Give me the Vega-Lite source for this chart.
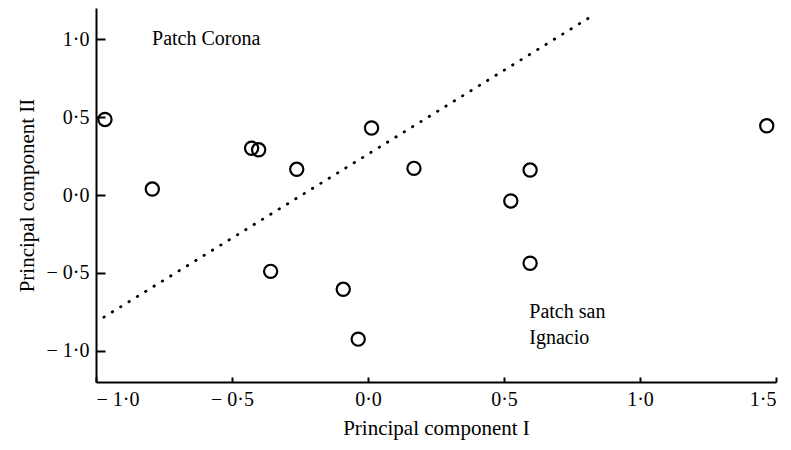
{
  "$schema": "https://vega.github.io/schema/vega-lite/v6.json",
  "width": 680,
  "height": 374,
  "autosize": {"type": "none"},
  "padding": {"left": 96, "top": 8, "right": 15, "bottom": 68},
  "background": "white",
  "config": {
    "view": {"stroke": null},
    "font": "Liberation Serif",
    "axis": {
      "grid": false,
      "domainColor": "black",
      "domainWidth": 2,
      "tickColor": "black",
      "tickWidth": 2,
      "labelFont": "Liberation Serif",
      "labelFontSize": 20,
      "labelColor": "black",
      "titleFont": "Liberation Serif",
      "titleFontSize": 21,
      "titleFontWeight": "normal",
      "titleColor": "black"
    }
  },
  "datasets": {
    "points": [
      {"pc1": -0.967, "pc2": 0.485},
      {"pc1": -0.793, "pc2": 0.038},
      {"pc1": -0.428, "pc2": 0.30},
      {"pc1": -0.402, "pc2": 0.29},
      {"pc1": -0.262, "pc2": 0.165},
      {"pc1": 0.013, "pc2": 0.43},
      {"pc1": -0.358, "pc2": -0.49},
      {"pc1": -0.091, "pc2": -0.605},
      {"pc1": -0.036, "pc2": -0.925},
      {"pc1": 0.169, "pc2": 0.171},
      {"pc1": 0.596, "pc2": 0.16},
      {"pc1": 0.525, "pc2": -0.038},
      {"pc1": 0.596, "pc2": -0.438},
      {"pc1": 1.466, "pc2": 0.444}
    ],
    "boundary": [
      {"pc1": -0.971, "pc2": -0.784},
      {"pc1": 0.822, "pc2": 1.147}
    ],
    "labels": [
      {"pc1": -0.794, "pc2": 1.0, "text": "Patch Corona"},
      {"pc1": 0.593, "pc2": -0.748, "text": "Patch san"},
      {"pc1": 0.593, "pc2": -0.917, "text": "Ignacio"}
    ]
  },
  "encoding": {
    "x": {
      "field": "pc1",
      "type": "quantitative",
      "scale": {"domain": [-1.0, 1.5], "nice": false, "zero": false},
      "axis": {
        "title": "Principal component I",
        "values": [-1, -0.5, 0, 0.5, 1, 1.5],
        "tickSize": -5,
        "labelPadding": 12,
        "titlePadding": 8,
        "labelExpr": "(datum.value < 0 ? '− ' : '') + replace(format(abs(datum.value), '.1f'), '.', '·')"
      }
    },
    "y": {
      "field": "pc2",
      "type": "quantitative",
      "scale": {"domain": [-1.2, 1.2], "nice": false, "zero": false},
      "axis": {
        "title": "Principal component II",
        "values": [-1, -0.5, 0, 0.5, 1],
        "tickSize": -9,
        "labelPadding": 16,
        "titlePadding": 9,
        "labelExpr": "(datum.value < 0 ? '− ' : '') + replace(format(abs(datum.value), '.1f'), '.', '·')"
      }
    }
  },
  "layer": [
    {
      "data": {"name": "boundary"},
      "mark": {"type": "line", "color": "black", "strokeWidth": 2.8, "strokeCap": "round", "strokeDash": [0.5, 9.3]}
    },
    {
      "data": {"name": "points"},
      "mark": {"type": "point", "shape": "circle", "filled": false, "stroke": "black", "strokeWidth": 2.2, "size": 175, "opacity": 1}
    },
    {
      "data": {"name": "labels"},
      "mark": {"type": "text", "align": "left", "baseline": "middle", "fontSize": 20, "font": "Liberation Serif", "color": "black"},
      "encoding": {"text": {"field": "text"}}
    }
  ]
}
